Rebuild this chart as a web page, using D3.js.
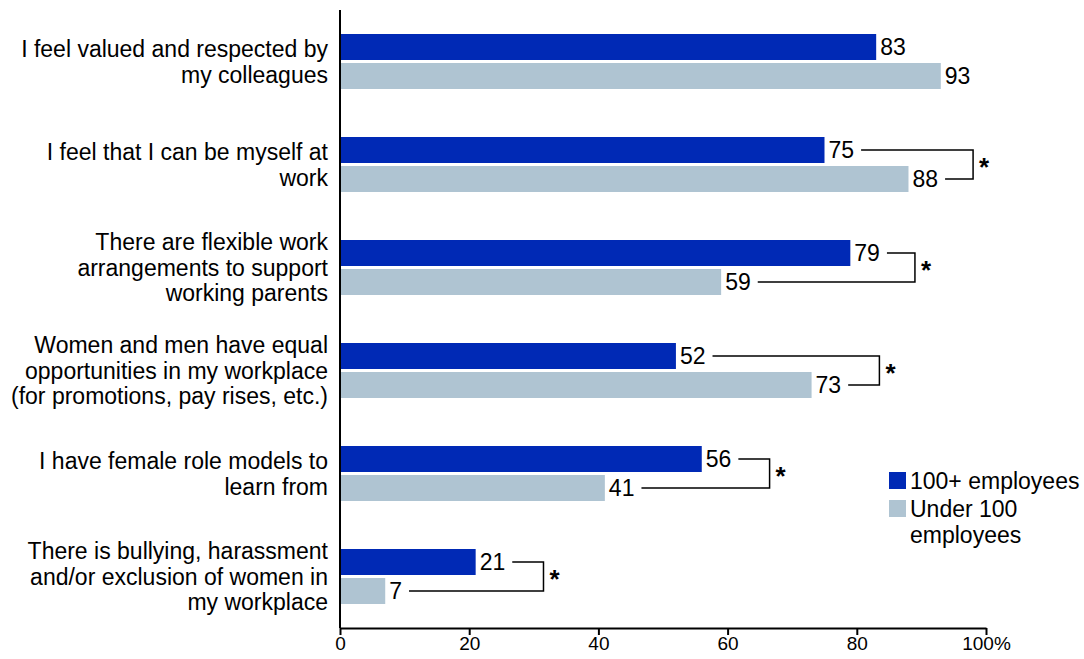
<!DOCTYPE html>
<html>
<head>
<meta charset="utf-8">
<script src="https://cdn.jsdelivr.net/npm/d3@7"></script>
<style>
  body { margin: 0; background: #fff; }
  text { font-family: "Liberation Sans", Arial, sans-serif; fill: #000; }
</style>
</head>
<body>
<div id="chart"></div>
<script>
// chart data
var categories = [
  ["I feel valued and respected by", "my colleagues"],
  ["I feel that I can be myself at", "work"],
  ["There are flexible work", "arrangements to support", "working parents"],
  ["Women and men have equal", "opportunities in my workplace", "(for promotions, pay rises, etc.)"],
  ["I have female role models to", "learn from"],
  ["There is bullying, harassment", "and/or exclusion of women in", "my workplace"]
];
var large = [83, 75, 79, 52, 56, 21];   // 100+ employees
var small = [93, 88, 59, 73, 41, 7];    // Under 100 employees
var bracketAt = [null, 98, 89, 83.5, 66.5, 31.5]; // significance bracket, in % units
var ticks = [0, 20, 40, 60, 80, 100];
var seriesNames = ["100+ employees", ["Under 100", "employees"]];
var colors = ["#0029b5", "#afc4d2"];

var width = 1084, height = 659;
var margin = {top: 10, left: 340, bottom: 31};

var svg = d3.select("#chart").append("svg")
    .attr("width", width)
    .attr("height", height);

var x = d3.scaleLinear().domain([0, 100]).range([340, 986]);
var y = d3.scaleBand().domain(d3.range(categories.length))
    .range([margin.top, height - margin.bottom]);

var fs = 23;

// bars
var groups = svg.selectAll("g.grp")
  .data(categories)
  .enter().append("g")
    .attr("class", "grp")
    .attr("transform", function(d, i) { return "translate(0," + (y(i) + y.bandwidth() / 2) + ")"; });

var barH = 26, gap = 3;

groups.append("rect")
    .attr("x", x(0))
    .attr("y", -barH - gap / 2)
    .attr("width", function(d, i) { return x(large[i]) - x(0); })
    .attr("height", barH)
    .attr("fill", colors[0]);

groups.append("rect")
    .attr("x", x(0))
    .attr("y", gap / 2)
    .attr("width", function(d, i) { return x(small[i]) - x(0); })
    .attr("height", barH)
    .attr("fill", colors[1]);

// value labels
var lblL = groups.append("text")
    .attr("x", function(d, i) { return x(large[i]) + 4; })
    .attr("y", -barH / 2 - gap / 2)
    .attr("dy", "0.36em")
    .style("font-size", fs + "px")
    .text(function(d, i) { return large[i]; });

var lblS = groups.append("text")
    .attr("x", function(d, i) { return x(small[i]) + 4; })
    .attr("y", barH / 2 + gap / 2)
    .attr("dy", "0.36em")
    .style("font-size", fs + "px")
    .text(function(d, i) { return small[i]; });

// significance brackets
groups.each(function(d, i) {
  if (bracketAt[i] == null) return;
  var g = d3.select(this);
  var bx = x(bracketAt[i]);
  var y1 = -barH / 2 - gap / 2, y2 = barH / 2 + gap / 2;
  var e1 = x(large[i]) + 4 + lblL.nodes()[i].getComputedTextLength() + 7;
  var e2 = x(small[i]) + 4 + lblS.nodes()[i].getComputedTextLength() + 7;
  g.append("path")
    .attr("d", "M" + e1 + "," + y1 + "H" + bx + "V" + y2 + "H" + e2)
    .attr("fill", "none")
    .attr("stroke", "#000")
    .attr("stroke-width", 1.5);
  g.append("text")
    .attr("x", bx + 6)
    .attr("y", 11)
    .style("font-size", "26px")
    .style("font-weight", "bold")
    .text("*");
});

// category labels
groups.append("text")
    .attr("text-anchor", "end")
    .style("font-size", fs + "px")
    .each(function(d) {
      var t = d3.select(this);
      var lh = 25.5;
      d.forEach(function(line, k) {
        t.append("tspan")
          .attr("x", 328)
          .attr("y", (k - (d.length - 1) / 2) * lh)
          .attr("dy", "0.36em")
          .text(line);
      });
    });

// axes
var xAxis = d3.axisBottom(x)
    .tickValues(ticks)
    .tickSize(7)
    .tickSizeOuter(0)
    .tickFormat(function(d) { return d === 100 ? "100%" : d; });

var ax = svg.append("g")
    .attr("transform", "translate(0," + (height - margin.bottom) + ")")
    .call(xAxis);
ax.select(".domain").attr("stroke", "#000").attr("stroke-width", 2);
ax.selectAll(".tick line").attr("stroke", "#000").attr("stroke-width", 2);
ax.selectAll(".tick text")
    .attr("font-family", null)
    .style("font-size", "19px")
    .attr("y", 9);

svg.append("line")
    .attr("x1", x(0)).attr("x2", x(0))
    .attr("y1", margin.top).attr("y2", height - margin.bottom)
    .attr("stroke", "#000")
    .attr("stroke-width", 2);

// legend
var legend = svg.append("g").attr("transform", "translate(889,472)");
legend.append("rect").attr("width", 17).attr("height", 17).attr("fill", colors[0]);
legend.append("text").attr("x", 21).attr("y", 9).attr("dy", "0.36em")
    .style("font-size", fs + "px").text(seriesNames[0]);
legend.append("rect").attr("y", 28).attr("width", 17).attr("height", 17).attr("fill", colors[1]);
var lt = legend.append("text").style("font-size", fs + "px");
seriesNames[1].forEach(function(line, k) {
  lt.append("tspan").attr("x", 21).attr("y", 37 + k * 26).attr("dy", "0.36em").text(line);
});
</script>
</body>
</html>
